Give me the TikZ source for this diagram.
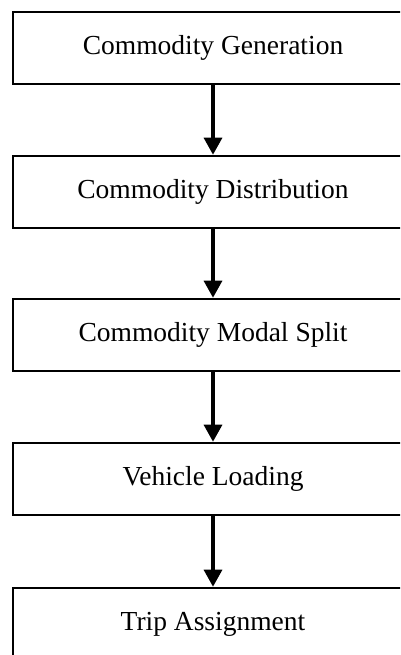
\documentclass[tikz,border=0pt]{standalone}
\usepackage{fontspec}
\setmainfont{Liberation Serif}
\usetikzlibrary{arrows.meta,positioning}
\tikzset{
  >={Triangle[length=17pt,width=18pt]},
  stage/.style={draw=black,line width=2.6pt,minimum width=400pt,minimum height=72pt,
    align=center,font=\fontsize{27.5}{30}\selectfont},
  flow/.style={->,line width=3.2pt,draw=black},
}
\begin{document}
\begin{tikzpicture}[x=1pt,y=-1pt]
  \useasboundingbox (0,0) rectangle (400,655);
  \clip (0,0) rectangle (400,655);
  % the five stages, top to bottom
  \node[stage] (gen)  at (213,48)  {Commodity Generation};
  \node[stage] (dist) at (213,192) {Commodity Distribution};
  \node[stage] (mode) at (213,335) {Commodity Modal Split};
  \node[stage] (load) at (213,479) {Vehicle Loading};
  \node[stage] (trip) at (213,624) {Trip Assignment};
  \draw[flow] (gen) -- (dist);
  \draw[flow] (dist) -- (mode);
  \draw[flow] (mode) -- (load);
  \draw[flow] (load) -- (trip);
\end{tikzpicture}
\end{document}
